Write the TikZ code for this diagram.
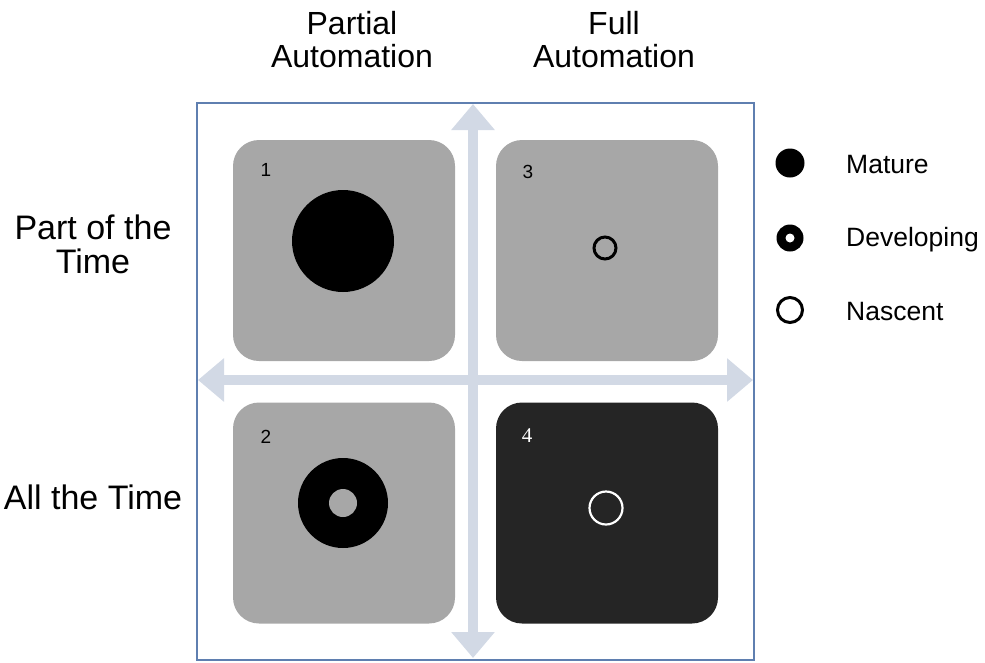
\documentclass[tikz,border=0pt]{standalone}
\usepackage{fontspec}
\setmainfont{Liberation Sans}
\newfontfamily\serifnum{Liberation Serif}
\usetikzlibrary{arrows.meta}
\definecolor{axisc}{HTML}{D2D9E5}
\definecolor{framec}{HTML}{5F7FB0}
\definecolor{boxgray}{HTML}{A7A7A7}
\definecolor{boxdark}{HTML}{252525}
\tikzset{
  quad/.style={rectangle, rounded corners=26pt, minimum width=222pt, minimum height=221pt, inner sep=0pt, draw=none},
  axisarrow/.style={draw=axisc, line width=10pt, {Triangle[length=26pt,width=42pt]}-{Triangle[length=26pt,width=42pt]}},
  lbl/.style={font=\fontsize{32}{33}\selectfont, align=center, inner sep=0pt},
  sidelbl/.style={font=\fontsize{34}{34}\selectfont, align=center, inner sep=0pt},
  leg/.style={font=\fontsize{26.5}{28}\selectfont, anchor=west, inner sep=0pt},
  num/.style={font=\fontsize{19}{20}\selectfont, inner sep=0pt},
}
\begin{document}
\begin{tikzpicture}[x=1pt,y=-1pt]
\useasboundingbox (0,0) rectangle (985,662);
% frame
\node[draw=framec, line width=1.1pt, rectangle, minimum width=557pt, minimum height=557pt, inner sep=0pt] (frame) at (475.5,381.5) {};
% axes
\coordinate (L) at (198,380);
\coordinate (R) at (753,380);
\coordinate (T) at (473,104);
\coordinate (B) at (473,658);
\draw[axisarrow] (L) -- (R);
\draw[axisarrow] (B) -- (T);
% quadrants
\node[quad, fill=boxgray] (q1) at (344,250.5) {};
\node[quad, fill=boxgray] (q3) at (607,250.5) {};
\node[quad, fill=boxgray] (q2) at (344,513) {};
\node[quad, fill=boxdark] (q4) at (607,513) {};
% numbers
\node[num] (n1) at (266,170) {1};
\node[num] (n3) at (528,172) {3};
\node[num] (n2) at (266,437) {2};
\node[num, text=white, font=\serifnum\fontsize{21}{22}\selectfont] (n4) at (527,436) {4};
% markers
\node[circle, fill=black, minimum size=102pt, inner sep=0pt] (m1) at (343,241) {};
\node[circle, draw=black, line width=3pt, minimum size=22pt, inner sep=0pt] (m3) at (605,248) {};
\node[circle, fill=black, minimum size=90pt, inner sep=0pt] (m2) at (343,503) {};
\node[circle, fill=boxgray, minimum size=28pt, inner sep=0pt] (m2i) at (343,503) {};
\node[circle, draw=white, line width=2.2pt, minimum size=33pt, inner sep=0pt] (m4) at (606,508) {};
% legend
\node[circle, fill=black, minimum size=29pt, inner sep=0pt] (l1) at (790,163) {};
\node[circle, fill=black, minimum size=27pt, inner sep=0pt] (l2) at (790,238) {};
\node[circle, fill=white, minimum size=9pt, inner sep=0pt] (l2i) at (790,238) {};
\node[circle, draw=black, line width=3pt, minimum size=25pt, inner sep=0pt] (l3) at (790,310) {};
\node[leg] (t1) at (846,165) {Mature};
\node[leg] (t2) at (846,240) {Developing};
\node[leg] (t3) at (846,312) {Nascent};
% headers
\node[lbl] (h1) at (352,40) {Partial\\Automation};
\node[lbl] (h2) at (614,40) {Full\\Automation};
\node[sidelbl] (v1) at (93,244) {Part of the\\Time};
\node[sidelbl] (v2) at (93,497) {All the Time};
\end{tikzpicture}
\end{document}
